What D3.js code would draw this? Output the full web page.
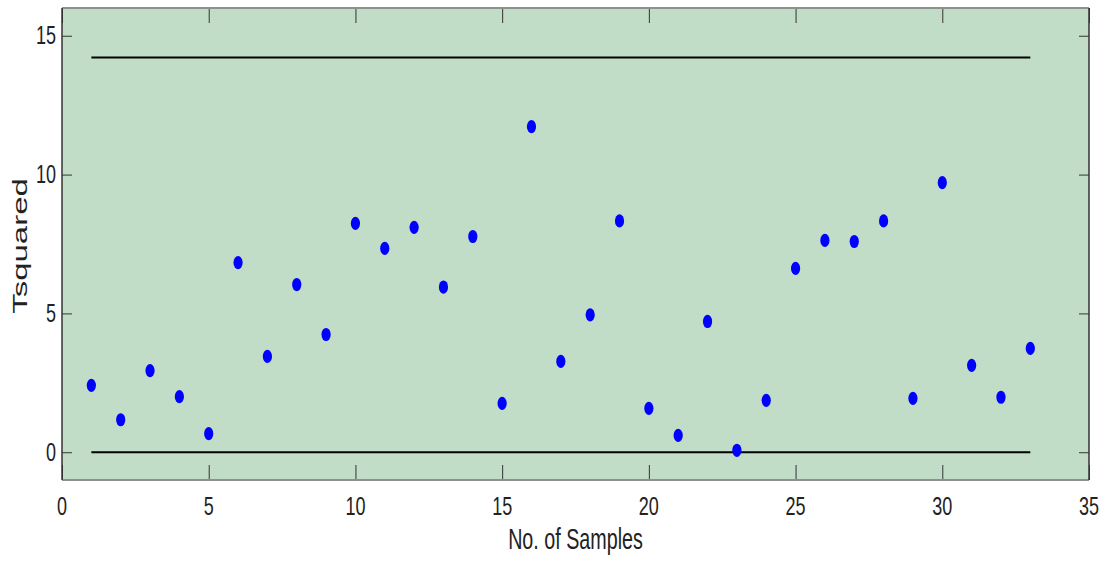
<!DOCTYPE html>
<html>
<head>
<meta charset="utf-8">
<script src="https://cdn.jsdelivr.net/npm/d3@7"></script>
<style>
  html, body { margin: 0; padding: 0; background: #ffffff; }
  svg { display: block; }
  text { font-family: "Liberation Sans", Arial, Helvetica, sans-serif; fill: #222; }
</style>
</head>
<body>
<svg id="chart" width="1105" height="561"></svg>
<script>
// ---- data ----
const samples = d3.range(1, 34);
const tsquared = [2.41, 1.17, 2.94, 2.00, 0.67, 6.83, 3.45, 6.04, 4.24, 8.24,
                  7.34, 8.10, 5.95, 7.77, 1.76, 11.73, 3.27, 4.95, 8.33, 1.58,
                  0.61, 4.71, 0.07, 1.87, 6.62, 7.63, 7.59, 8.33, 1.94, 9.71,
                  3.13, 1.98, 3.74];
const upperLimit = 14.22;
const lowerLimit = 0;
const xTicks = [0, 5, 10, 15, 20, 25, 30, 35];
const yTicks = [0, 5, 10, 15];
const xLabel = "No. of Samples";
const yLabel = "Tsquared";

// ---- layout ----
const svg = d3.select("#chart");
const L = 62, R = 1089, T = 8, B = 480;
const x = d3.scaleLinear().domain([0, 35]).range([L, R]);
const y = d3.scaleLinear().domain([-1, 16]).range([B, T]);

// background
svg.append("rect").attr("x", L).attr("y", T).attr("width", R - L).attr("height", B - T)
  .attr("fill", "#c2ddc7");

// ticks (inward, all four sides)
const tickCol = "#333";
const gBottom = svg.append("g").attr("transform", `translate(0,${B})`)
  .call(d3.axisBottom(x).tickValues(xTicks).tickSizeInner(-15).tickSizeOuter(0).tickFormat(""));
const gTop = svg.append("g").attr("transform", `translate(0,${T})`)
  .call(d3.axisTop(x).tickValues(xTicks).tickSizeInner(-15).tickSizeOuter(0).tickFormat(""));
const gLeft = svg.append("g").attr("transform", `translate(${L},0)`)
  .call(d3.axisLeft(y).tickValues(yTicks).tickSizeInner(-10).tickSizeOuter(0).tickFormat(""));
const gRight = svg.append("g").attr("transform", `translate(${R},0)`)
  .call(d3.axisRight(y).tickValues(yTicks).tickSizeInner(-10).tickSizeOuter(0).tickFormat(""));
[gBottom, gTop, gLeft, gRight].forEach(g => {
  g.select(".domain").remove();
  g.selectAll(".tick line").attr("stroke", tickCol).attr("stroke-width", 1);
});

// frame
svg.append("line").attr("x1", L).attr("x2", R).attr("y1", T).attr("y2", T)
  .attr("stroke", "#8c918c").attr("stroke-width", 2);
svg.append("line").attr("x1", L).attr("x2", R).attr("y1", B).attr("y2", B)
  .attr("stroke", "#8c918c").attr("stroke-width", 2);
svg.append("line").attr("x1", L).attr("x2", L).attr("y1", T).attr("y2", B)
  .attr("stroke", "#333").attr("stroke-width", 1.5);
svg.append("line").attr("x1", R).attr("x2", R).attr("y1", T).attr("y2", B)
  .attr("stroke", "#333").attr("stroke-width", 1.5);

// limit lines
[upperLimit, lowerLimit].forEach(v => {
  svg.append("line")
    .attr("x1", x(samples[0])).attr("x2", x(samples[samples.length - 1]))
    .attr("y1", y(v)).attr("y2", y(v))
    .attr("stroke", "#000").attr("stroke-width", 2);
});

// points
svg.append("g").selectAll("ellipse").data(samples).join("ellipse")
  .attr("cx", d => x(d))
  .attr("cy", (d, i) => y(tsquared[i]))
  .attr("rx", 4.6).attr("ry", 6.6)
  .attr("fill", "#0000ff");

// tick labels (condensed look)
const sx = 0.72;
xTicks.forEach(t => {
  svg.append("text")
    .attr("transform", `translate(${x(t)},515) scale(${sx},1)`)
    .attr("text-anchor", "middle")
    .attr("font-size", 25)
    .text(t);
});
yTicks.forEach(t => {
  svg.append("text")
    .attr("transform", `translate(56,${y(t)}) scale(${sx},1)`)
    .attr("text-anchor", "end")
    .attr("dominant-baseline", "central")
    .attr("font-size", 25)
    .text(t);
});

// axis labels
svg.append("text")
  .attr("transform", `translate(${(L + R) / 2},549) scale(0.68,1)`)
  .attr("text-anchor", "middle")
  .attr("font-size", 29)
  .text(xLabel);
svg.append("text")
  .attr("transform", `translate(27,${(T + B) / 2 + 2}) rotate(-90) scale(1,0.63)`)
  .attr("text-anchor", "middle")
  .attr("font-size", 33)
  .text(yLabel);
</script>
</body>
</html>
